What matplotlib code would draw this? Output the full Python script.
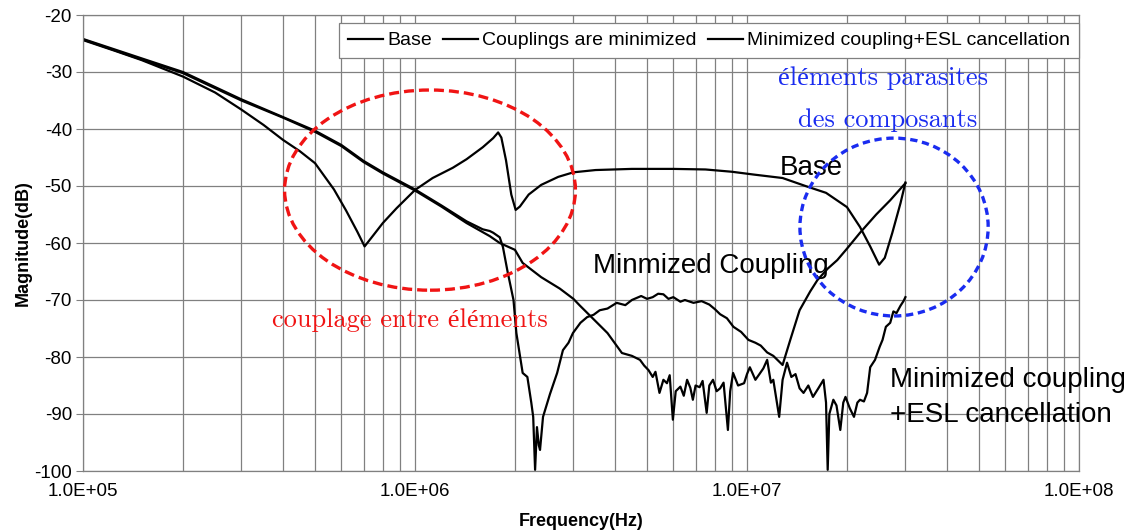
# plot.py
# Filter insertion loss: three measured curves with annotated regions.
import matplotlib
matplotlib.use("Agg")
import matplotlib.pyplot as plt
from matplotlib.patches import Ellipse
from matplotlib.ticker import LogLocator, NullFormatter

plt.rcParams["font.family"] = ["Liberation Sans", "DejaVu Sans"]
plt.rcParams["axes.unicode_minus"] = False

# ---- data ----
base_f = [1.0e5, 1.25e5, 1.5e5, 2.0e5, 2.5e5, 3.0e5, 3.5e5, 4.0e5, 4.5e5, 5.0e5,
          5.7e5, 6.2e5, 6.7e5, 7.05e5, 7.5e5, 8.0e5, 8.8e5, 1.0e6, 1.13e6, 1.3e6,
          1.43e6, 1.6e6, 1.72e6, 1.78e6, 1.82e6, 1.88e6, 1.95e6, 2.01e6, 2.07e6, 2.2e6,
          2.4e6, 2.7e6, 3.0e6, 3.5e6, 4.5e6, 6.0e6, 7.5e6, 9.0e6, 1.05e7, 1.28e7,
          1.5e7, 1.73e7, 2.0e7, 2.19e7, 2.35e7, 2.5e7, 2.6e7, 2.74e7, 2.9e7, 3.0e7]
base_db = [-24.4, -26.3, -27.9, -30.8, -33.6, -36.6, -39.3, -41.9, -43.9, -46.0,
           -50.6, -54.3, -58.0, -60.6, -58.6, -56.5, -53.9, -50.7, -48.6, -46.8,
           -45.3, -43.2, -41.6, -40.6, -41.5, -45.5, -51.5, -54.2, -53.6, -51.5,
           -49.8, -48.4, -47.6, -47.2, -47.0, -47.0, -47.1, -47.5, -48.0, -48.6,
           -50.0, -51.2, -53.7, -57.2, -60.6, -63.8, -62.6, -58.2, -53.0, -49.4]

mincp_f = [1.0e5, 1.5e5, 2.0e5, 3.0e5, 4.0e5, 5.0e5, 6.0e5, 7.0e5, 8.0e5, 1.0e6,
           1.2e6, 1.43e6, 1.6e6, 1.68e6, 1.72e6, 1.8e6, 1.84e6, 1.9e6, 1.98e6, 2.02e6,
           2.11e6, 2.18e6, 2.24e6, 2.27e6, 2.3e6, 2.33e6, 2.36e6, 2.38e6, 2.43e6, 2.55e6,
           2.68e6, 2.79e6, 2.9e6, 2.99e6, 3.15e6, 3.3e6, 3.45e6, 3.6e6, 3.8e6, 4.05e6,
           4.3e6, 4.5e6, 4.8e6, 5.0e6, 5.2e6, 5.4e6, 5.6e6, 5.8e6, 6.0e6, 6.3e6,
           6.5e6, 6.9e6, 7.3e6, 7.7e6, 8.0e6, 8.3e6, 8.7e6, 9.1e6, 9.6e6, 1.01e7,
           1.06e7, 1.1e7, 1.15e7, 1.2e7, 1.28e7, 1.35e7, 1.44e7, 1.55e7, 1.63e7, 1.75e7,
           1.87e7, 2.0e7, 2.19e7, 2.45e7, 2.7e7, 3.0e7]
mincp_db = [-24.2, -27.6, -30.0, -34.8, -37.9, -40.3, -42.8, -45.6, -47.6, -50.6,
            -53.4, -56.2, -57.6, -57.9, -58.2, -59.0, -60.7, -65.0, -70.0, -75.8,
            -82.8, -83.5, -88.0, -90.5, -99.8, -92.3, -95.5, -96.3, -90.5, -86.5,
            -82.8, -78.8, -77.5, -75.8, -74.0, -73.0, -72.6, -71.8, -71.5, -70.5,
            -70.9, -70.0, -69.3, -69.8, -69.5, -68.9, -69.0, -69.8, -69.5, -70.3,
            -70.0, -70.5, -70.2, -70.8, -71.6, -72.5, -73.2, -74.7, -75.6, -77.0,
            -77.5, -78.0, -79.2, -79.8, -81.4, -77.0, -71.8, -68.5, -66.5, -64.5,
            -63.0, -61.0, -58.2, -55.0, -52.5, -49.5]

esl_f = [1.0e5, 1.5e5, 2.0e5, 3.0e5, 4.0e5, 5.0e5, 6.0e5, 7.0e5, 8.0e5, 1.0e6,
         1.2e6, 1.43e6, 1.6e6, 1.68e6, 1.8e6, 2.0e6, 2.11e6, 2.4e6, 2.73e6, 3.0e6,
         3.14e6, 3.4e6, 3.8e6, 4.2e6, 4.5e6, 4.76e6, 4.9e6, 5.05e6, 5.2e6, 5.3e6,
         5.45e6, 5.6e6, 5.74e6, 5.85e6, 5.98e6, 6.1e6, 6.3e6, 6.45e6, 6.6e6, 6.75e6,
         6.87e6, 7.0e6, 7.2e6, 7.35e6, 7.56e6, 7.7e6, 7.9e6, 8.1e6, 8.3e6, 8.5e6,
         8.76e6, 8.9e6, 9.08e6, 9.4e6, 9.8e6, 1.0e7, 1.02e7, 1.06e7, 1.09e7, 1.12e7,
         1.15e7, 1.18e7, 1.2e7, 1.25e7, 1.28e7, 1.32e7, 1.36e7, 1.4e7, 1.44e7, 1.48e7,
         1.53e7, 1.58e7, 1.64e7, 1.7e7, 1.73e7, 1.75e7, 1.77e7, 1.82e7, 1.86e7, 1.91e7,
         1.95e7, 1.98e7, 2.04e7, 2.1e7, 2.15e7, 2.19e7, 2.25e7, 2.3e7, 2.35e7, 2.43e7,
         2.51e7, 2.56e7, 2.62e7, 2.7e7, 2.76e7, 2.82e7, 2.9e7, 2.96e7, 3.0e7]
esl_db = [-24.3, -27.8, -30.2, -35.0, -38.0, -40.5, -43.0, -45.8, -47.8, -50.8,
          -53.6, -56.5, -58.1, -58.8, -60.0, -61.2, -63.5, -66.0, -68.0, -69.8,
          -71.0, -73.0, -75.8, -79.3, -79.8, -80.5, -81.5, -82.3, -83.5, -82.6,
          -86.3, -84.0, -84.6, -83.2, -91.0, -86.0, -85.2, -86.8, -84.0, -85.4,
          -87.5, -85.0, -85.3, -84.2, -89.8, -85.0, -84.0, -86.0, -85.5, -84.5,
          -92.8, -86.0, -82.8, -85.0, -84.6, -83.0, -81.8, -84.0, -83.0, -82.0,
          -80.5, -84.5, -84.0, -90.5, -84.0, -81.0, -83.5, -83.0, -85.5, -86.3,
          -85.0, -87.0, -85.5, -84.0, -88.0, -99.8, -90.0, -87.5, -88.5, -92.8,
          -88.0, -87.0, -89.0, -90.5, -88.0, -87.5, -87.8, -86.3, -81.8, -80.5,
          -78.2, -77.0, -74.7, -74.0, -72.0, -72.3, -71.0, -70.2, -69.5]

series_labels = ["Base", "Couplings are minimized", "Minimized coupling+ESL cancellation"]
x_ticks = [1e5, 1e6, 1e7, 1e8]
x_tick_labels = ["1.0E+05", "1.0E+06", "1.0E+07", "1.0E+08"]
y_ticks = [-100, -90, -80, -70, -60, -50, -40, -30, -20]

# ---- figure ----
fig = plt.figure(figsize=(11.31, 5.31), dpi=100)
ax = fig.add_axes([83 / 1131, 60 / 531, 996 / 1131, 456 / 531])

ax.plot(base_f, base_db, color="black", lw=1.6, label=series_labels[0])
ax.plot(mincp_f, mincp_db, color="black", lw=1.6, label=series_labels[1])
ax.plot(esl_f, esl_db, color="black", lw=1.6, label=series_labels[2])

ax.set_xscale("log")
ax.set_xlim(1e5, 1e8)
ax.set_ylim(-100, -20)
ax.set_xticks(x_ticks, x_tick_labels)
ax.xaxis.set_minor_locator(LogLocator(base=10, subs=range(2, 10)))
ax.xaxis.set_minor_formatter(NullFormatter())
ax.set_yticks(y_ticks)
ax.tick_params(axis="x", which="both", length=0, pad=9, labelsize=13.5)
ax.tick_params(axis="y", length=5, color="#808080", pad=3, labelsize=13.5)

ax.grid(which="both", axis="x", color="#808080", lw=0.9)
ax.grid(which="major", axis="y", color="#808080", lw=0.9)
for s in ax.spines.values():
    s.set_color("#808080")
    s.set_linewidth(0.9)

ax.set_xlabel("Frequency(Hz)", fontsize=13, fontweight="bold", labelpad=9)
ax.set_ylabel("Magnitude(dB)", fontsize=13, fontweight="bold", labelpad=2)

leg = ax.legend(loc="upper right", bbox_to_anchor=(1.0, 1 - 8 / 456), ncol=3,
                fontsize=14, frameon=True, fancybox=False, framealpha=1,
                edgecolor="#808080", borderaxespad=0, handlelength=1.8,
                handletextpad=0.2, columnspacing=0.6, borderpad=0.45)
leg.get_frame().set_linewidth(0.9)

# ---- annotations ----
ax.add_patch(Ellipse((0.3484, 0.616), 0.292, 0.439, transform=ax.transAxes,
                     fill=False, edgecolor="#f01414", lw=2.4,
                     linestyle=(0, (3.0, 1.5)), zorder=5))
ax.add_patch(Ellipse((0.8143, 0.535), 0.189, 0.390, transform=ax.transAxes,
                     fill=False, edgecolor="#1a2cf0", lw=2.4,
                     linestyle=(0, (2.2, 1.4)), zorder=5))

serif = ["cmr10", "Liberation Serif"]
ax.text(0.3283, 0.316, "couplage entre éléments", transform=ax.transAxes,
        color="#f01414", fontsize=19, family=serif, ha="center", va="baseline")
ax.text(0.803, 0.846, "éléments parasites", transform=ax.transAxes,
        color="#1a2cf0", fontsize=19, family=serif, ha="center", va="baseline")
ax.text(0.808, 0.754, "des composants", transform=ax.transAxes,
        color="#1a2cf0", fontsize=19, family=serif, ha="center", va="baseline")

ax.text(0.6998, 0.649, "Base", transform=ax.transAxes, fontsize=20,
        ha="left", va="baseline")
ax.text(0.512, 0.434, "Minmized Coupling", transform=ax.transAxes, fontsize=20,
        ha="left", va="baseline")
ax.text(0.810, 0.184, "Minimized coupling", transform=ax.transAxes, fontsize=20,
        ha="left", va="baseline")
ax.text(0.810, 0.107, "+ESL cancellation", transform=ax.transAxes, fontsize=20,
        ha="left", va="baseline")

fig.savefig("out.png", dpi=100)
